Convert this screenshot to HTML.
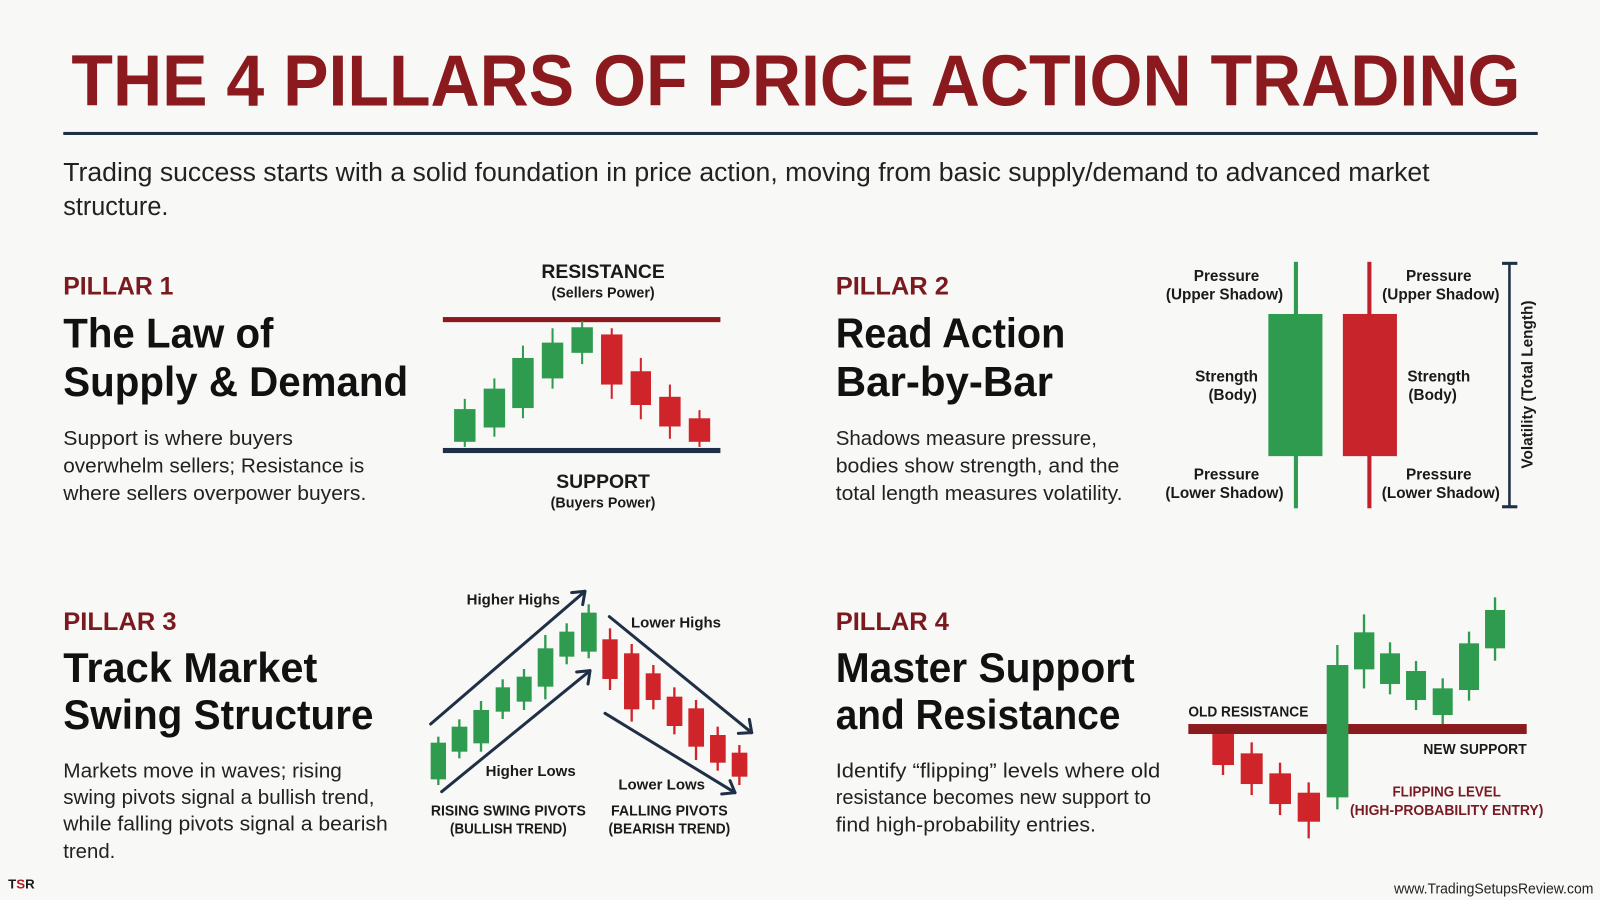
<!DOCTYPE html>
<html><head><meta charset="utf-8"><style>
html,body{margin:0;padding:0;background:#f8f8f6;}
svg{display:block;}
text{font-family:"Liberation Sans",sans-serif;}
</style></head><body>
<svg width="1600" height="900" viewBox="0 0 1568 880" preserveAspectRatio="none" xmlns="http://www.w3.org/2000/svg">
<rect width="1568" height="880" fill="#f8f8f6"/>
<!-- Title -->
<text x="70" y="103" font-size="71" font-weight="bold" fill="#8b1a1e" textLength="1420" lengthAdjust="spacingAndGlyphs">THE 4 PILLARS OF PRICE ACTION TRADING</text>
<rect x="62" y="129" width="1445" height="3" fill="#1f2f45"/>
<text x="62" y="177" font-size="25" fill="#222" textLength="1339" lengthAdjust="spacingAndGlyphs">Trading success starts with a solid foundation in price action, moving from basic supply/demand to advanced market</text>
<text x="62" y="210" font-size="25" fill="#222" textLength="103" lengthAdjust="spacingAndGlyphs">structure.</text>

<!-- Pillar 1 -->
<text x="62" y="288" font-size="24" font-weight="bold" fill="#7a1a1f" textLength="108" lengthAdjust="spacingAndGlyphs">PILLAR 1</text>
<text x="62" y="340" font-size="41" font-weight="bold" fill="#111" textLength="206" lengthAdjust="spacingAndGlyphs">The Law of</text>
<text x="62" y="387" font-size="41" font-weight="bold" fill="#111" textLength="338" lengthAdjust="spacingAndGlyphs">Supply &amp; Demand</text>
<g font-size="20" fill="#222">
<text x="62" y="435" textLength="225" lengthAdjust="spacingAndGlyphs">Support is where buyers</text>
<text x="62" y="462" textLength="295" lengthAdjust="spacingAndGlyphs">overwhelm sellers; Resistance is</text>
<text x="62" y="489" textLength="297" lengthAdjust="spacingAndGlyphs">where sellers overpower buyers.</text>
</g>
<g text-anchor="middle" font-weight="bold" fill="#1a1a1a">
<text x="591" y="272" font-size="19">RESISTANCE</text>
<text x="591" y="291" font-size="14">(Sellers Power)</text>
<text x="591" y="477" font-size="19">SUPPORT</text>
<text x="591" y="496" font-size="14">(Buyers Power)</text>
</g>
<rect x="434" y="310" width="272" height="5" fill="#8b1a1e"/>
<rect x="434" y="438" width="272" height="5" fill="#1f2f45"/>
<g stroke-width="2">
<line x1="455.5" y1="390" x2="455.5" y2="437" stroke="#2e9b4e"/><rect x="445" y="400" width="21" height="32" fill="#2e9b4e"/>
<line x1="484.5" y1="370" x2="484.5" y2="427" stroke="#2e9b4e"/><rect x="474" y="380" width="21" height="38" fill="#2e9b4e"/>
<line x1="512.5" y1="338" x2="512.5" y2="409" stroke="#2e9b4e"/><rect x="502" y="350" width="21" height="49" fill="#2e9b4e"/>
<line x1="541.5" y1="321" x2="541.5" y2="380" stroke="#2e9b4e"/><rect x="531" y="335" width="21" height="35" fill="#2e9b4e"/>
<line x1="570.5" y1="314" x2="570.5" y2="356" stroke="#2e9b4e"/><rect x="560" y="320" width="21" height="25" fill="#2e9b4e"/>
<line x1="599.5" y1="321" x2="599.5" y2="390" stroke="#d0242b"/><rect x="589" y="327" width="21" height="49" fill="#d0242b"/>
<line x1="628" y1="350" x2="628" y2="410" stroke="#d0242b"/><rect x="618" y="363" width="20" height="33" fill="#d0242b"/>
<line x1="656.5" y1="376" x2="656.5" y2="429" stroke="#d0242b"/><rect x="646" y="388" width="21" height="29" fill="#d0242b"/>
<line x1="685.5" y1="401" x2="685.5" y2="437" stroke="#d0242b"/><rect x="675" y="409" width="21" height="23" fill="#d0242b"/>
</g>

<!-- Pillar 2 -->
<text x="819" y="288" font-size="24" font-weight="bold" fill="#7a1a1f" textLength="111" lengthAdjust="spacingAndGlyphs">PILLAR 2</text>
<text x="819" y="340" font-size="41" font-weight="bold" fill="#111" textLength="225" lengthAdjust="spacingAndGlyphs">Read Action</text>
<text x="819" y="387" font-size="41" font-weight="bold" fill="#111" textLength="213" lengthAdjust="spacingAndGlyphs">Bar-by-Bar</text>
<g font-size="20" fill="#222">
<text x="819" y="435" textLength="256" lengthAdjust="spacingAndGlyphs">Shadows measure pressure,</text>
<text x="819" y="462" textLength="278" lengthAdjust="spacingAndGlyphs">bodies show strength, and the</text>
<text x="819" y="489" textLength="281" lengthAdjust="spacingAndGlyphs">total length measures volatility.</text>
</g>
<rect x="1268" y="256" width="4" height="241" fill="#2e9b4e"/>
<rect x="1243" y="307" width="53" height="139" fill="#2e9b4e"/>
<rect x="1340" y="256" width="4" height="241" fill="#c0202a"/>
<rect x="1316" y="307" width="53" height="139" fill="#c8242b"/>
<g text-anchor="middle" font-size="15" font-weight="bold" fill="#1a1a1a">
<text x="1202" y="275">Pressure</text><text x="1200" y="293">(Upper Shadow)</text>
<text x="1202" y="373">Strength</text><text x="1208" y="391">(Body)</text>
<text x="1202" y="469">Pressure</text><text x="1200" y="487">(Lower Shadow)</text>
<text x="1410" y="275">Pressure</text><text x="1412" y="293">(Upper Shadow)</text>
<text x="1410" y="373">Strength</text><text x="1404" y="391">(Body)</text>
<text x="1410" y="469">Pressure</text><text x="1412" y="487">(Lower Shadow)</text>
<text transform="translate(1502,376) rotate(-90)" font-size="15">Volatility (Total Length)</text>
</g>
<rect x="1478" y="257" width="2.5" height="239" fill="#1f2f45"/>
<rect x="1472" y="256" width="15" height="3" fill="#1f2f45"/>
<rect x="1472" y="494" width="15" height="3" fill="#1f2f45"/>

<!-- Pillar 3 -->
<text x="62" y="616" font-size="24" font-weight="bold" fill="#7a1a1f" textLength="111" lengthAdjust="spacingAndGlyphs">PILLAR 3</text>
<text x="62" y="667" font-size="41" font-weight="bold" fill="#111" textLength="249" lengthAdjust="spacingAndGlyphs">Track Market</text>
<text x="62" y="713" font-size="41" font-weight="bold" fill="#111" textLength="304" lengthAdjust="spacingAndGlyphs">Swing Structure</text>
<g font-size="20" fill="#222">
<text x="62" y="760" textLength="273" lengthAdjust="spacingAndGlyphs">Markets move in waves; rising</text>
<text x="62" y="786" textLength="305" lengthAdjust="spacingAndGlyphs">swing pivots signal a bullish trend,</text>
<text x="62" y="812" textLength="318" lengthAdjust="spacingAndGlyphs">while falling pivots signal a bearish</text>
<text x="62" y="839" textLength="51" lengthAdjust="spacingAndGlyphs">trend.</text>
</g>
<g transform="translate(392,557.3) scale(0.3267,0.326)">
<g fill="#2e9b4e" stroke="#2e9b4e" stroke-width="7">
<line x1="115" y1="500" x2="115" y2="645"/><rect x="92" y="518" width="46" height="110" stroke="none"/>
<line x1="178" y1="448" x2="178" y2="565"/><rect x="155" y="470" width="47" height="75" stroke="none"/>
<line x1="243" y1="393" x2="243" y2="545"/><rect x="220" y="420" width="47" height="100" stroke="none"/>
<line x1="308" y1="328" x2="308" y2="447"/><rect x="287" y="352" width="43" height="73" stroke="none"/>
<line x1="372" y1="297" x2="372" y2="420"/><rect x="350" y="320" width="45" height="75" stroke="none"/>
<line x1="436" y1="195" x2="436" y2="388"/><rect x="413" y="235" width="47" height="115" stroke="none"/>
<line x1="500" y1="160" x2="500" y2="283"/><rect x="478" y="185" width="45" height="75" stroke="none"/>
<line x1="566" y1="103" x2="566" y2="265"/><rect x="543" y="128" width="47" height="117" stroke="none"/>
</g>
<g fill="#d0242b" stroke="#d0242b" stroke-width="7">
<line x1="630" y1="175" x2="630" y2="360"/><rect x="607" y="208" width="46" height="119" stroke="none"/>
<line x1="695" y1="222" x2="695" y2="455"/><rect x="672" y="250" width="46" height="168" stroke="none"/>
<line x1="760" y1="285" x2="760" y2="418"/><rect x="737" y="310" width="45" height="80" stroke="none"/>
<line x1="823" y1="352" x2="823" y2="493"/><rect x="800" y="380" width="47" height="88" stroke="none"/>
<line x1="888" y1="390" x2="888" y2="570"/><rect x="865" y="415" width="47" height="115" stroke="none"/>
<line x1="953" y1="470" x2="953" y2="602"/><rect x="930" y="495" width="47" height="83" stroke="none"/>
<line x1="1018" y1="525" x2="1018" y2="645"/><rect x="995" y="548" width="47" height="72" stroke="none"/>
</g>
<g stroke="#1f2f45" stroke-width="9" fill="none" stroke-linecap="round" stroke-linejoin="round">
<line x1="92" y1="462" x2="555" y2="64"/><polyline points="515,68 555,64 548,104"/>
<line x1="125" y1="665" x2="570" y2="302"/><polyline points="530,306 570,302 564,342"/>
<line x1="628" y1="140" x2="1055" y2="488"/><polyline points="1048,448 1055,488 1015,490"/>
<line x1="615" y1="430" x2="1005" y2="668"/><polyline points="990,632 1005,668 965,672"/>
</g>
<g text-anchor="middle" fill="#1a1a1a" font-size="45" font-weight="bold">
<text x="340" y="103">Higher Highs</text>
<text x="392" y="618">Higher Lows</text>
<text x="828" y="173">Lower Highs</text>
<text x="785" y="658">Lower Lows</text>
<text x="325" y="737" textLength="465" lengthAdjust="spacingAndGlyphs">RISING SWING PIVOTS</text>
<text x="325" y="790" textLength="350" lengthAdjust="spacingAndGlyphs">(BULLISH TREND)</text>
<text x="808" y="737" textLength="350" lengthAdjust="spacingAndGlyphs">FALLING PIVOTS</text>
<text x="808" y="790" textLength="365" lengthAdjust="spacingAndGlyphs">(BEARISH TREND)</text>
</g>
</g>

<!-- Pillar 4 -->
<text x="819" y="616" font-size="24" font-weight="bold" fill="#7a1a1f" textLength="111" lengthAdjust="spacingAndGlyphs">PILLAR 4</text>
<text x="819" y="667" font-size="41" font-weight="bold" fill="#111" textLength="293" lengthAdjust="spacingAndGlyphs">Master Support</text>
<text x="819" y="713" font-size="41" font-weight="bold" fill="#111" textLength="279" lengthAdjust="spacingAndGlyphs">and Resistance</text>
<g font-size="20" fill="#222">
<text x="819" y="760" textLength="318" lengthAdjust="spacingAndGlyphs">Identify “flipping” levels where old</text>
<text x="819" y="786" textLength="309" lengthAdjust="spacingAndGlyphs">resistance becomes new support to</text>
<text x="819" y="813" textLength="255" lengthAdjust="spacingAndGlyphs">find high-probability entries.</text>
</g>
<g transform="translate(1078,567.1) scale(0.3267,0.326)">
<g fill="#d0242b" stroke="#d0242b" stroke-width="7">
<line x1="369" y1="462" x2="369" y2="585"/><rect x="337" y="462" width="65" height="93" stroke="none"/>
<line x1="455" y1="487" x2="455" y2="645"/><rect x="422" y="520" width="66" height="92" stroke="none"/>
<line x1="540" y1="548" x2="540" y2="705"/><rect x="508" y="580" width="65" height="92" stroke="none"/>
<line x1="626" y1="607" x2="626" y2="775"/><rect x="593" y="638" width="67" height="87" stroke="none"/>
</g>
<rect x="265" y="432" width="1015" height="30" fill="#8b1a1e"/>
<g fill="#2e9b4e" stroke="#2e9b4e" stroke-width="7">
<line x1="712" y1="195" x2="712" y2="688"/><rect x="680" y="255" width="65" height="397" stroke="none"/>
<line x1="792" y1="103" x2="792" y2="325"/><rect x="762" y="157" width="61" height="111" stroke="none"/>
<line x1="870" y1="187" x2="870" y2="343"/><rect x="840" y="220" width="60" height="92" stroke="none"/>
<line x1="948" y1="243" x2="948" y2="390"/><rect x="918" y="273" width="60" height="87" stroke="none"/>
<line x1="1028" y1="295" x2="1028" y2="432"/><rect x="998" y="325" width="60" height="80" stroke="none"/>
<line x1="1107" y1="155" x2="1107" y2="362"/><rect x="1077" y="190" width="60" height="140" stroke="none"/>
<line x1="1185" y1="52" x2="1185" y2="242"/><rect x="1155" y="90" width="60" height="115" stroke="none"/>
</g>
<g font-size="45" font-weight="bold">
<text x="265" y="410" fill="#1a1a1a" textLength="360" lengthAdjust="spacingAndGlyphs">OLD RESISTANCE</text>
<text x="1280" y="522" fill="#1a1a1a" text-anchor="end" textLength="310" lengthAdjust="spacingAndGlyphs">NEW SUPPORT</text>
<text x="1040" y="650" fill="#7a1a25" text-anchor="middle" textLength="325" lengthAdjust="spacingAndGlyphs">FLIPPING LEVEL</text>
<text x="1040" y="705" fill="#7a1a25" text-anchor="middle" textLength="580" lengthAdjust="spacingAndGlyphs">(HIGH-PROBABILITY ENTRY)</text>
</g>
<text x="1480" y="940" font-size="45" fill="#222" text-anchor="end" textLength="598" lengthAdjust="spacingAndGlyphs">www.TradingSetupsReview.com</text>
</g>
<text x="8" y="869" font-size="13" font-weight="bold" fill="#1a1a1a">T<tspan fill="#b01e24">S</tspan>R</text>
</svg>
</body></html>
